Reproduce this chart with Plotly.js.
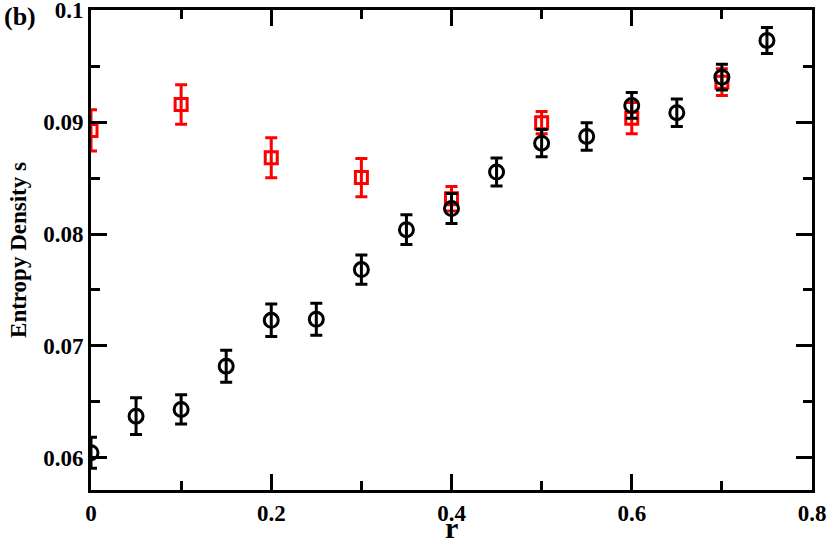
<!DOCTYPE html>
<html lang="en">
<head>
    <meta charset="UTF-8">
    <title>Entropy density vs r</title>
    <script src="https://cdn.plot.ly/plotly-3.0.1.min.js" charset="utf-8"></script>
    <style>
        body { margin: 0; background: #fff; }
    </style>
</head>
<body>
    <div id="plot" style="width: 830px; height: 540px;"></div>

    <script>
        // black circles
        const rBlack = [0, 0.05, 0.1, 0.15, 0.2, 0.25, 0.3, 0.35, 0.4, 0.45, 0.5, 0.55, 0.6, 0.65, 0.7, 0.75];
        const sBlack = [0.06045, 0.06372, 0.06432, 0.06819, 0.07229, 0.07238, 0.07682, 0.08039,
                        0.08227, 0.08554, 0.08812, 0.08872, 0.09149, 0.09084, 0.09402, 0.0973];
        const errBlack = [0.00138, 0.00164, 0.00131, 0.00143, 0.00145, 0.00143, 0.00131, 0.00133,
                          0.00134, 0.00125, 0.00122, 0.00123, 0.00115, 0.00123, 0.00115, 0.00116];

        // red squares
        const rRed = [0, 0.1, 0.2, 0.3, 0.4, 0.5, 0.6, 0.7];
        const sRed = [0.08926, 0.09158, 0.08682, 0.08504, 0.08315, 0.08995, 0.09035, 0.09357];
        const errRed = [0.00185, 0.00177, 0.00179, 0.0017, 0.0011, 0.001, 0.0014, 0.0012];

        const fontFamily = '"Liberation Serif", "Times New Roman", serif';

        const red = {
            x: rRed,
            y: sRed,
            type: 'scatter',
            mode: 'markers',
            marker: { symbol: 'square-open', size: 12, color: '#ff0000', line: { width: 3, color: '#ff0000' } },
            error_y: { type: 'data', array: errRed, visible: true, color: '#ff0000', thickness: 3, width: 6 },
            showlegend: false
        };

        const black = {
            x: rBlack,
            y: sBlack,
            type: 'scatter',
            mode: 'markers',
            marker: { symbol: 'circle-open', size: 14, color: '#000000', line: { width: 3, color: '#000000' } },
            error_y: { type: 'data', array: errBlack, visible: true, color: '#000000', thickness: 3, width: 6 },
            showlegend: false
        };

        const axisCommon = {
            showgrid: false,
            zeroline: false,
            showline: true,
            linecolor: '#000',
            linewidth: 3,
            mirror: 'ticks',
            ticks: 'inside',
            ticklen: 16,
            tickwidth: 3,
            tickcolor: '#000',
            ticklabeloverflow: 'allow',
            tickfont: { family: fontFamily, size: 23, color: '#000', weight: 'bold' }
        };

        const layout = {
            width: 830,
            height: 540,
            margin: { l: 91, r: 18, t: 10, b: 50 },
            paper_bgcolor: '#fff',
            plot_bgcolor: '#fff',
            xaxis: Object.assign({}, axisCommon, {
                range: [0, 0.8],
                dtick: 0.2,
                tick0: 0,
                minor: { dtick: 0.1, ticks: 'inside', ticklen: 9, tickwidth: 3, tickcolor: '#000' }
            }),
            yaxis: Object.assign({}, axisCommon, {
                range: [0.05712, 0.10002],
                dtick: 0.01,
                tick0: 0,
                minor: { dtick: 0.005, ticks: 'inside', ticklen: 9, tickwidth: 3, tickcolor: '#000' },
                title: { text: 'Entropy Density s', font: { family: fontFamily, size: 23, color: '#000', weight: 'bold' }, standoff: 11 }
            }),
            annotations: [{
                text: 'r',
                xref: 'paper', yref: 'paper',
                x: 0.5, y: -0.1167,
                xanchor: 'center', yanchor: 'bottom',
                showarrow: false,
                font: { family: fontFamily, size: 30, color: '#000', weight: 'bold' }
            }, {
                text: '(b)',
                xref: 'paper', yref: 'paper',
                x: -0.123, y: 1.02,
                xanchor: 'left', yanchor: 'top',
                showarrow: false,
                font: { family: fontFamily, size: 26, color: '#000', weight: 'bold' }
            }]
        };

        Plotly.newPlot('plot', [red, black], layout, { displayModeBar: false, staticPlot: true });
    </script>
</body>
</html>
